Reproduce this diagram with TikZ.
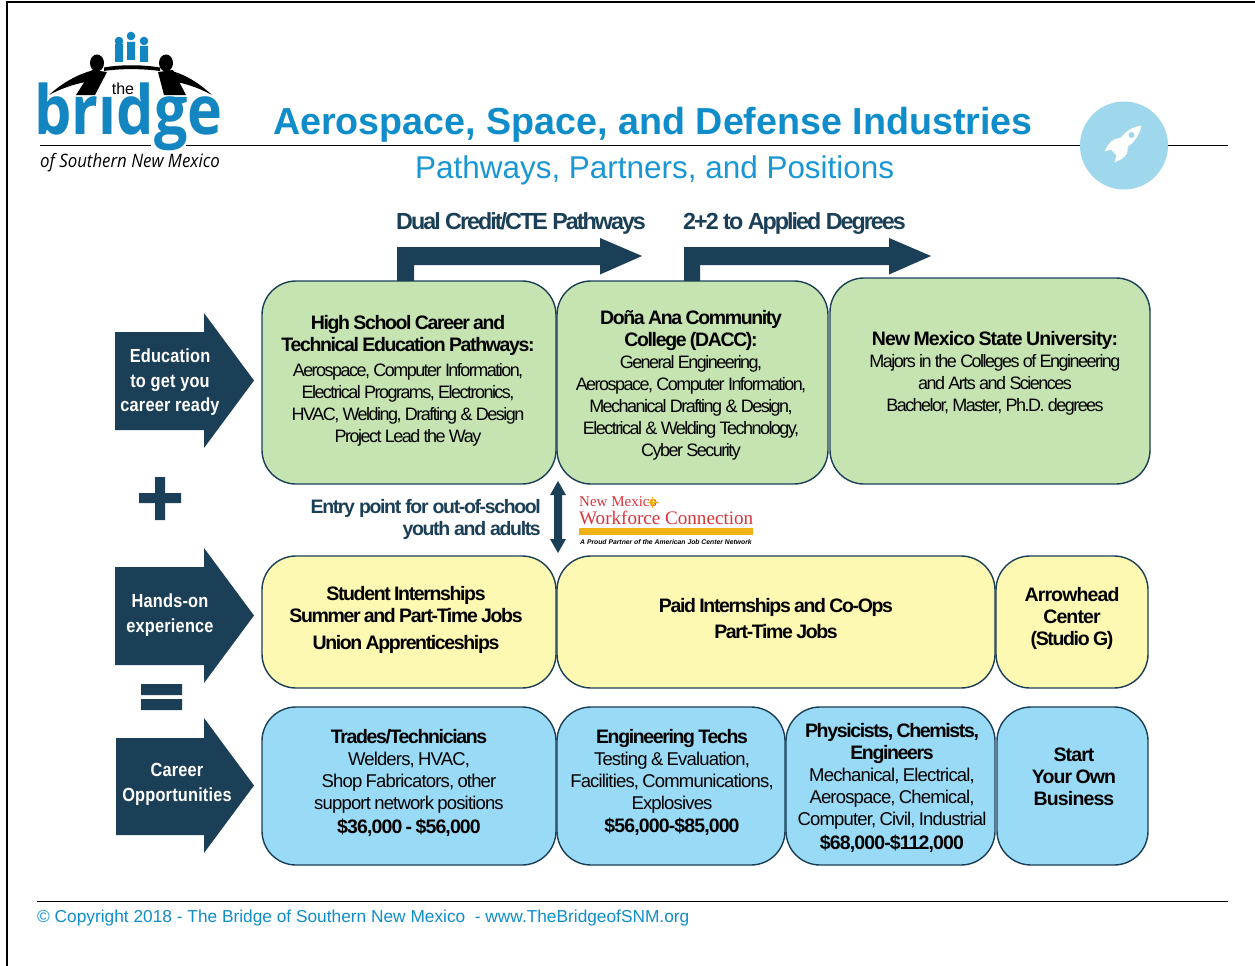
\documentclass[tikz,border=0pt]{standalone}
\usepackage{fontspec}
\setmainfont{Liberation Sans}
\newfontfamily\tight[LetterSpace=-4.5]{Liberation Sans}
\newfontfamily\tighter[LetterSpace=-7]{Liberation Sans}
\newfontfamily\tightest[LetterSpace=-8.5]{Liberation Sans}
\newfontfamily\narrowb[FakeStretch=0.86,LetterSpace=1]{Liberation Sans}
\newfontfamily\logofont[FakeStretch=0.87]{Open Sans}
\newfontfamily\logosubfont[FakeStretch=0.91]{Open Sans}
\newfontfamily\serifw{Liberation Serif}
\definecolor{navy}{HTML}{1B3F57}
\definecolor{gfill}{HTML}{C5E4B1}
\definecolor{yfill}{HTML}{FDF8B2}
\definecolor{bfill}{HTML}{99DBF7}
\definecolor{titleblue}{HTML}{0F8DCB}
\definecolor{subblue}{HTML}{1A96D4}
\definecolor{logoblue}{HTML}{1385C0}
\definecolor{cblue}{HTML}{9FD8EC}
\definecolor{wred}{HTML}{D8343A}
\definecolor{worange}{HTML}{EFB316}
\newcommand{\bd}[1]{{\tighter\fontsize{19.5}{22}\selectfont\bfseries #1\par}}
\newcommand{\bdw}[1]{{\tight\fontsize{19.5}{22}\selectfont\bfseries #1\par}}
\newcommand{\rg}[1]{{\tight\fontsize{18.5}{22}\selectfont #1\par}}
\newcommand{\rgn}[1]{{\tightest\fontsize{18}{22}\selectfont #1\par}}
\tikzset{
  panel/.style={draw=navy,line width=1.4pt,rounded corners=34pt,anchor=north west,inner sep=0pt,outer sep=0pt},
  body/.style={align=center,text=black,inner sep=0pt,text width=#1},
  body/.default=300pt,
  tag/.style={align=center,text=white,font=\narrowb\bfseries\fontsize{19}{24.5}\selectfont,inner sep=0pt},
  headtext/.style={text=navy,font=\tightest\bfseries\fontsize{23.3}{26}\selectfont,inner sep=0pt,anchor=base west},
  rule/.style={draw=black,line width=0.9pt}
}
\newcommand{\panelbox}[6]{\node[panel,fill=#2,minimum width=#5-#3,minimum height=#6-#4] (#1) at (#3,#4) {};}
\begin{document}
\begin{tikzpicture}[x=1pt,y=-1pt]
\useasboundingbox (0,0) rectangle (1255,966);
% page border
\draw[black,line width=2pt] (7,966) -- (7,2) -- (1255,2);
% header rules
\draw[rule] (186,145.5) -- (1228,145.5);
\draw[rule] (40,145.5) -- (151,145.5);
\draw[rule] (37,901.5) -- (1228,901.5);
% logo
\fill[logoblue] (119,41) circle (4.3) (131,36) circle (4.3) (144,41) circle (4.3);
\fill[logoblue] (115,44) rectangle (123,62) (127,42) rectangle (135,60) (140,46) rectangle (148,62);
\fill[black] (97,63) ellipse (7 and 8.5) (166,63) ellipse (7 and 8.5);
\fill[black] (76,95) -- (92,70) -- (107,72) -- (95,95) -- cycle;
\fill[black] (186,95) -- (173,70) -- (158,72) -- (164,95) -- cycle;
\fill[black] (49,95) .. controls (62,83) and (78,74) .. (94,70) -- (86,82) .. controls (74,84) and (60,89) .. (49,95) -- cycle;
\fill[black] (212,95) .. controls (199,83) and (185,74) .. (168,70) -- (176,82) .. controls (188,84) and (201,89) .. (212,95) -- cycle;
\fill[black] (104,67.5) .. controls (120,64.5) and (142,64.5) .. (160,67.5) -- (160,71) .. controls (142,68.5) and (120,68.5) .. (104,71) -- cycle;
\node[inner sep=0pt,anchor=base west,text=logoblue,font=\logofont\bfseries\fontsize{68}{68}\selectfont] (logoword) at (34,134) {br\i dge};
\node[inner sep=0pt,anchor=base,font=\fontsize{16}{16}\selectfont] (logothe) at (123,94.5) {the};
\node[inner sep=0pt,anchor=base west,font=\logosubfont\itshape\fontsize{18.5}{18}\selectfont] (logosub) at (40,167.5) {of Southern New Mexico};
% rocket badge
\fill[cblue] (1124,145.5) circle (44);
\begin{scope}[shift={(1124,145.5)}]
\fill[white] (17.5,-20) .. controls (10,-19) and (2,-15) .. (-3,-8) -- (-10,-6) .. controls (-15,-3) and (-17,1) .. (-19.5,6) -- (-13,4) -- (-7.5,10) -- (-9.5,17) .. controls (-5,15) and (0,13) .. (3,8) -- (4,1) .. controls (12,-5) and (16,-12) .. (17.5,-20) -- cycle;
\fill[cblue] (7.5,-10.5) circle (3);
\end{scope}
% titles
\node[inner sep=0pt,anchor=base west,text=titleblue,font=\bfseries\fontsize{37.65}{38}\selectfont] (title) at (273,134) {Aerospace, Space, and Defense Industries};
\node[inner sep=0pt,anchor=base west,text=subblue,font=\fontsize{31.45}{32}\selectfont] (subtitle) at (415,178) {Pathways, Partners, and Positions};
% panels
\panelbox{g1}{gfill}{262}{281}{556}{484}
\panelbox{g2}{gfill}{557}{281}{828}{484}
\panelbox{g3}{gfill}{830}{278}{1150}{484}
\panelbox{y1}{yfill}{262}{556}{556}{688}
\panelbox{y2}{yfill}{557}{556}{995}{688}
\panelbox{y3}{yfill}{996}{556}{1148}{688}
\panelbox{b1}{bfill}{262}{707}{556}{865}
\panelbox{b2}{bfill}{557}{707}{785}{865}
\panelbox{b3}{bfill}{786}{707}{995}{865}
\panelbox{b4}{bfill}{997}{707}{1148}{865}
% upper arrows
\fill[navy] (397,281) -- (397,247) -- (600,247) -- (600,238) -- (642,256) -- (600,274.5) -- (600,265) -- (414,265) -- (414,281) -- cycle;
\fill[navy] (684,281) -- (684,247) -- (889,247) -- (889,238) -- (931,256) -- (889,274.5) -- (889,265) -- (700,265) -- (700,281) -- cycle;
\node[headtext] (t1) at (396,229) {Dual Credit/CTE Pathways};
\node[headtext] (t2) at (683,229) {2+2 to Applied Degrees};
% side arrows
\fill[navy] (115,332) -- (204,332) -- (204,313) -- (254,380.5) -- (204,448) -- (204,430) -- (115,430) -- cycle;
\fill[navy] (115,567) -- (204,567) -- (204,548) -- (254,615.5) -- (204,683) -- (204,665) -- (115,665) -- cycle;
\fill[navy] (116,738) -- (204,738) -- (204,718) -- (254,785.5) -- (204,853) -- (204,835) -- (116,835) -- cycle;
\node[tag] (e1) at (170,382.5) {Education\\to get you\\career ready};
\node[tag] (e2) at (170,615) {Hands-on\\experience};
\node[tag] (e3) at (177,784.5) {Career\\Opportunities};
% plus and equals
\fill[navy] (139,493) rectangle (181,503) (155,477) rectangle (165,520);
\fill[navy] (141,684) rectangle (182,695) (141,699) rectangle (182,710);
% green panel text
\node[body=290pt] (tg1) at (408,381) {\bd{High School Career and}\bd{Technical Education Pathways:}\vspace{3pt}\rgn{Aerospace, Computer Information,}\rgn{Electrical Programs, Electronics,}\rgn{HVAC, Welding, Drafting \& Design}\rgn{Project Lead the Way}};
\node[body=270pt] (tg2) at (691,385) {\bd{Doña Ana Community}\bd{College (DACC):}\rgn{General Engineering,}\rgn{Aerospace, Computer Information,}\rgn{Mechanical Drafting \& Design,}\rgn{Electrical \& Welding Technology,}\rgn{Cyber Security}};
\node[body=316pt] (tg3) at (995,373) {\bdw{New Mexico State University:}\rgn{Majors in the Colleges of Engineering}\rgn{and Arts and Sciences}\rgn{Bachelor, Master, Ph.D. degrees}};
% entry point
\node[align=right,inner sep=0pt,anchor=east,text=navy,font=\tighter\bfseries\fontsize{19.5}{22}\selectfont] (entry) at (541,519) {Entry point for out-of-school\\youth and adults};
\coordinate (dtop) at (558,481);
\coordinate (dbot) at (558,553);
\fill[navy] (dtop) -- (566,495) -- (562,495) -- (562,539) -- (566,539) -- (dbot) -- (550,539) -- (554,539) -- (554,495) -- (550,495) -- cycle;
% workforce logo
\node[inner sep=0pt,anchor=base west,text=wred,font=\serifw\fontsize{15}{15}\selectfont] (wf1) at (579,506) {New Mexico};
\node[inner sep=0pt,anchor=base west,text=wred,font=\serifw\fontsize{19.1}{20}\selectfont] (wf2) at (579,524) {Workforce Connection};
\draw[worange,line width=1.2pt] (652.7,502) circle (2.6);
\draw[worange,line width=1pt] (647,502) -- (659,502) (652.7,496.5) -- (652.7,507.5);
\fill[worange] (579,528) rectangle (753,535);
\node[inner sep=0pt,anchor=base west,text=black,font=\bfseries\itshape\fontsize{6.8}{7}\selectfont] (wf3) at (580,544) {A Proud Partner of the American Job Center Network};
% yellow panel text
\node[body=290pt] (ty1) at (406,620) {\bd{Student Internships}\bd{Summer and Part-Time Jobs}\vspace{5pt}\bd{Union Apprenticeships}};
\node[body=430pt] (ty2) at (776,619) {\bd{Paid Internships and Co-Ops}\vspace{4pt}\bd{Part-Time Jobs}};
\node[body=150pt] (ty3) at (1072,618) {\bdw{Arrowhead}\bdw{Center}\bd{(Studio G)}};
% blue panel text
\node[body=290pt] (tb1) at (409,783) {\bd{Trades/Technicians}\rg{Welders, HVAC,}\rg{Shop Fabricators, other}\rg{support network positions}\vspace{2pt}\bdw{\$36,000 - \$56,000}};
\node[body=225pt] (tb2) at (672,782) {\bd{Engineering Techs}\rg{Testing \& Evaluation,}\rg{Facilities, Communications,}\rg{Explosives}\vspace{1pt}\bdw{\$56,000-\$85,000}};
\node[body=205pt] (tb3) at (892,788) {\bd{Physicists, Chemists,}\bd{Engineers}\rg{Mechanical, Electrical,}\rg{Aerospace, Chemical,}\rg{Computer, Civil, Industrial}\vspace{2pt}\bdw{\$68,000-\$112,000}};
\node[body=150pt] (tb4) at (1074,777) {\bdw{Start}\bdw{Your Own}\bdw{Business}};
% footer
\node[inner sep=0pt,anchor=base west,text=titleblue,font=\fontsize{17.3}{18}\selectfont] (foot) at (37,922) {© Copyright 2018 - The Bridge of Southern New Mexico\ \ - www.TheBridgeofSNM.org};
\end{tikzpicture}
\end{document}
